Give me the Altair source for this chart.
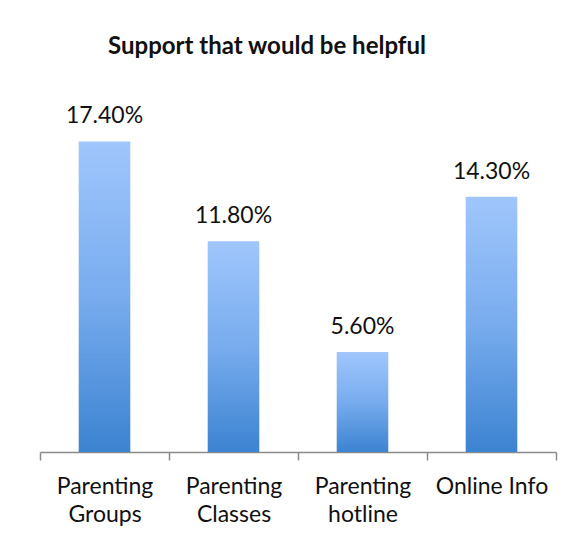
import altair as alt
import pandas as pd

categories = ["Parenting Groups", "Parenting Classes", "Parenting hotline", "Online Info"]
values = [17.4, 11.8, 5.6, 14.3]
value_labels = ["17.40%", "11.80%", "5.60%", "14.30%"]

df = pd.DataFrame({"category": categories, "value": values, "label": value_labels})

FONT = "Lato"

x = alt.X(
    "category:N",
    sort=categories,
    scale=alt.Scale(paddingInner=0, paddingOuter=0),
    axis=alt.Axis(
        title=None,
        labelAngle=0,
        tickBand="extent",
        labelExpr="indexof(datum.label, 'Parenting') == 0 ? split(datum.label, ' ') : datum.label",
        labelFont=FONT,
        labelFontSize=23,
        labelColor="#111111",
        labelLineHeight=28,
        labelPadding=15,
        tickSize=8,
        tickColor="#8a8a8a",
        tickWidth=1.5,
        domainColor="#8a8a8a",
        domainWidth=1.5,
    ),
)
y = alt.Y("value:Q", scale=alt.Scale(domain=[0, 20]), axis=None)

bars = alt.Chart(df).mark_bar(
    width=alt.RelativeBandSize(0.4),
    color=alt.Gradient(
        gradient="linear",
        x1=0, y1=0, x2=0, y2=1,
        stops=[
            alt.GradientStop(color="#a0c6fc", offset=0),
            alt.GradientStop(color="#78acee", offset=0.5),
            alt.GradientStop(color="#3c83d1", offset=1),
        ],
    ),
).encode(x=x, y=y)

text = alt.Chart(df).mark_text(
    font=FONT, fontSize=23, color="#111111", baseline="alphabetic", dy=-18
).encode(x=x, y=y, text="label:N")

chart = (
    alt.layer(bars, text)
    .properties(
        width=516,
        height=357,
        padding={"left": 32, "top": 87, "right": 8, "bottom": 88},
        autosize=alt.AutoSizeParams(type="none"),
        title=alt.TitleParams(
            "Support that would be helpful",
            font=FONT,
            fontSize=24,
            fontWeight="bold",
            color="#111111",
            anchor="middle",
            dx=-31,
            offset=36,
        ),
    )
    .configure_view(stroke=None)
)

chart.save("out.html", embed_options={"renderer": "svg", "actions": False})
